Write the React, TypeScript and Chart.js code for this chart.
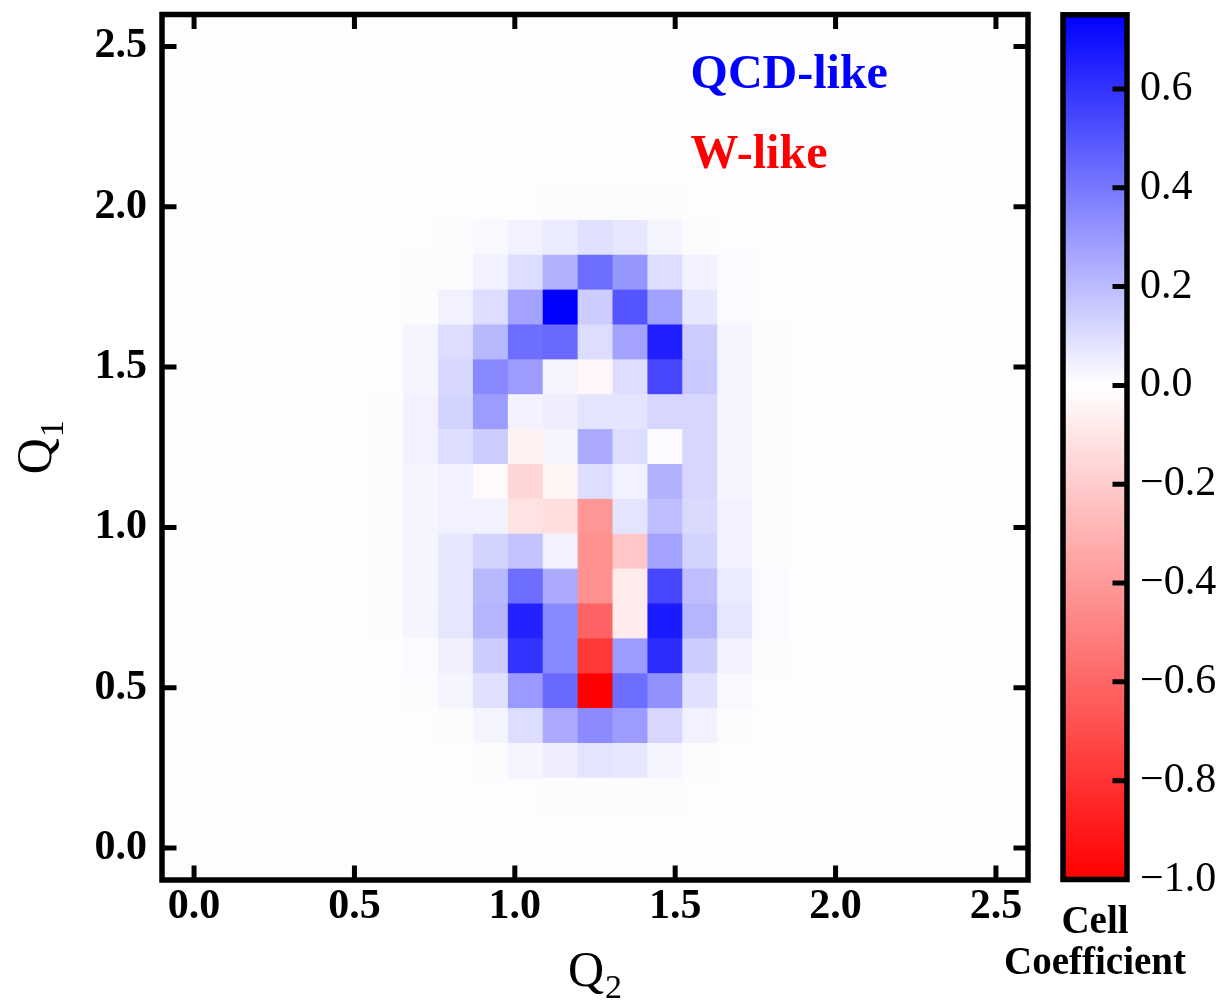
import { useEffect, useRef } from "react";
import { Chart, registerables } from "chart.js";

Chart.register(...registerables);

// Bin width of the (Q2, Q1) histogram; bin k spans [k*BIN, (k+1)*BIN]
const BIN = 0.1088;
const FIRST_COL = 5; // Q2 bin index of the first value in every row
const TOP_ROW = 18; // Q1 bin index of ROW_18

// Cell coefficients, one row per Q1 bin (top to bottom), Q2 bins 5..16
const ROW_18 = [0, 0, 0, 0, 0, 0.01, 0.01, 0.01, 0.01, 0, 0, 0];
const ROW_17 = [0, 0, 0.01, 0.02, 0.04, 0.06, 0.09, 0.07, 0.03, 0.01, 0, 0];
const ROW_16 = [0, 0.01, 0.01, 0.04, 0.1, 0.23, 0.43, 0.31, 0.1, 0.04, 0.015, 0];
const ROW_15 = [0, 0.01, 0.04, 0.1, 0.27, 0.75, 0.15, 0.5, 0.28, 0.07, 0.015, 0];
const ROW_14 = [0.005, 0.03, 0.1, 0.21, 0.43, 0.44, 0.1, 0.27, 0.66, 0.15, 0.03, 0.01];
const ROW_13 = [0.005, 0.03, 0.12, 0.35, 0.29, 0.03, -0.03, 0.1, 0.54, 0.16, 0.03, 0.01];
const ROW_12 = [0.01, 0.04, 0.13, 0.29, 0.035, 0.05, 0.08, 0.08, 0.12, 0.12, 0.03, 0.01];
const ROW_11 = [0.01, 0.04, 0.1, 0.15, -0.05, 0.03, 0.25, 0.1, 0.015, 0.12, 0.03, 0.01];
const ROW_10 = [0.01, 0.03, 0.04, -0.02, -0.16, -0.04, 0.1, 0.04, 0.23, 0.12, 0.03, 0.01];
const ROW_09 = [0.01, 0.03, 0.04, 0.035, -0.11, -0.13, -0.41, 0.08, 0.19, 0.11, 0.04, 0.01];
const ROW_08 = [0.01, 0.03, 0.07, 0.13, 0.18, 0.04, -0.43, -0.22, 0.27, 0.13, 0.04, 0.01];
const ROW_07 = [0.01, 0.03, 0.07, 0.21, 0.43, 0.25, -0.43, -0.08, 0.54, 0.19, 0.06, 0.015];
const ROW_06 = [0.01, 0.03, 0.075, 0.22, 0.65, 0.35, -0.61, -0.08, 0.67, 0.22, 0.075, 0.015];
const ROW_05 = [0, 0.015, 0.045, 0.15, 0.6, 0.35, -0.78, 0.29, 0.62, 0.15, 0.04, 0.01];
const ROW_04 = [0, 0.01, 0.03, 0.09, 0.3, 0.44, -1.0, 0.43, 0.32, 0.09, 0.02, 0.006];
const ROW_03 = [0, 0, 0.01, 0.03, 0.1, 0.25, 0.34, 0.29, 0.12, 0.04, 0.01, 0];
const ROW_02 = [0, 0, 0, 0.01, 0.03, 0.05, 0.08, 0.07, 0.03, 0.01, 0, 0];
const ROW_01 = [0, 0, 0, 0, 0, 0.01, 0.01, 0.01, 0.01, 0, 0, 0];

const ROWS = [
  ROW_18, ROW_17, ROW_16, ROW_15, ROW_14, ROW_13, ROW_12, ROW_11, ROW_10,
  ROW_09, ROW_08, ROW_07, ROW_06, ROW_05, ROW_04, ROW_03, ROW_02, ROW_01,
];

const AXIS_MIN = -0.1;
const AXIS_MAX = 2.6;
const X_TICKS = [0, 0.5, 1.0, 1.5, 2.0, 2.5];
const Y_TICKS = [0, 0.5, 1.0, 1.5, 2.0, 2.5];

const V_MIN = -1.0;
const V_MAX = 0.75;
const CB_TICKS = [-1.0, -0.8, -0.6, -0.4, -0.2, 0.0, 0.2, 0.4, 0.6];

// Text annotations (data coordinates of the left end of the baseline)
const LABEL_QCD = { text: "QCD-like", x: 1.548, y: 2.371, color: "#0000ff" };
const LABEL_W = { text: "W-like", x: 1.548, y: 2.122, color: "#ff0000" };

const SERIF = "'Liberation Serif', 'Times New Roman', serif";
const PLOT_BG = "rgb(253,253,255)";
const FRAME_W = 5.5;
const TICK_W = 5;
const TICK_LEN = 14.5;

// Diverging blue-white-red map, white at zero
function cellColor(v: number): string {
  if (v >= 0) {
    const t = Math.min(v / V_MAX, 1);
    const c = Math.round(255 * (1 - t));
    return `rgb(${c},${c},255)`;
  }
  const t = Math.min(v / V_MIN, 1);
  const c = Math.round(255 * (1 - t));
  return `rgb(255,${c},${c})`;
}

type Cell = { x: number; y: number; v: number };

function buildCells(): Cell[] {
  const cells: Cell[] = [];
  ROWS.forEach((row, r) => {
    const yBin = TOP_ROW - r;
    row.forEach((v, c) => {
      const xBin = FIRST_COL + c;
      cells.push({ x: (xBin + 0.5) * BIN, y: (yBin + 0.5) * BIN, v });
    });
  });
  return cells;
}

const cellPlugin = {
  id: "cellGrid",
  beforeDatasetsDraw(chart: any) {
    const { ctx, chartArea: a, scales } = chart;
    const xs = scales.x;
    const ys = scales.y;
    ctx.save();
    ctx.beginPath();
    ctx.rect(a.left, a.top, a.right - a.left, a.bottom - a.top);
    ctx.clip();
    ctx.fillStyle = PLOT_BG;
    ctx.fillRect(a.left, a.top, a.right - a.left, a.bottom - a.top);
    for (const cell of chart.data.datasets[0].data as Cell[]) {
      if (cell.v === 0) continue;
      const x0 = xs.getPixelForValue(cell.x - BIN / 2);
      const x1 = xs.getPixelForValue(cell.x + BIN / 2);
      const y0 = ys.getPixelForValue(cell.y + BIN / 2);
      const y1 = ys.getPixelForValue(cell.y - BIN / 2);
      ctx.fillStyle = cellColor(cell.v);
      ctx.fillRect(x0 - 0.3, y0 - 0.3, x1 - x0 + 0.6, y1 - y0 + 0.6);
    }
    ctx.restore();
  },
};

const framePlugin = {
  id: "frameAndLabels",
  afterDraw(chart: any) {
    const { ctx, chartArea: a, scales } = chart;
    const xs = scales.x;
    const ys = scales.y;
    ctx.save();
    ctx.strokeStyle = "#000";
    ctx.lineJoin = "miter";
    ctx.lineCap = "butt";

    // inward tick marks on all four sides
    ctx.lineWidth = TICK_W;
    ctx.beginPath();
    for (const t of X_TICKS) {
      const px = xs.getPixelForValue(t);
      ctx.moveTo(px, a.bottom);
      ctx.lineTo(px, a.bottom - TICK_LEN);
      ctx.moveTo(px, a.top);
      ctx.lineTo(px, a.top + TICK_LEN);
    }
    for (const t of Y_TICKS) {
      const py = ys.getPixelForValue(t);
      ctx.moveTo(a.left, py);
      ctx.lineTo(a.left + TICK_LEN, py);
      ctx.moveTo(a.right, py);
      ctx.lineTo(a.right - TICK_LEN, py);
    }
    ctx.stroke();

    ctx.lineWidth = FRAME_W;
    ctx.strokeRect(a.left, a.top, a.right - a.left, a.bottom - a.top);

    // annotations
    ctx.font = `bold 48px ${SERIF}`;
    ctx.textAlign = "left";
    ctx.textBaseline = "alphabetic";
    for (const lab of [LABEL_QCD, LABEL_W]) {
      ctx.fillStyle = lab.color;
      ctx.fillText(lab.text, xs.getPixelForValue(lab.x), ys.getPixelForValue(lab.y));
    }

    // axis titles Q_2 (bottom) and Q_1 (left, rotated)
    ctx.fillStyle = "#000";
    const mainFont = `normal 50px ${SERIF}`;
    const subFont = `normal 34px ${SERIF}`;
    const drawQ = (sub: string, x: number, y: number, rot: number) => {
      ctx.save();
      ctx.translate(x, y);
      ctx.rotate(rot);
      ctx.textAlign = "left";
      ctx.font = mainFont;
      const wq = ctx.measureText("Q").width;
      ctx.font = subFont;
      const ws = ctx.measureText(sub).width;
      const start = -(wq + ws + 1) / 2;
      ctx.font = mainFont;
      ctx.fillText("Q", start, 0);
      ctx.font = subFont;
      ctx.fillText(sub, start + wq + 1, 12);
      ctx.restore();
    };
    drawQ("2", (a.left + a.right) / 2, 986, 0);
    drawQ("1", 51, (a.top + a.bottom) / 2, -Math.PI / 2);
    ctx.restore();
  },
};

const colorbarPlugin = {
  id: "colorbar",
  beforeDatasetsDraw(chart: any) {
    const { ctx, chartArea: a, scales } = chart;
    const ys = scales.y;
    const yBottom = ys.getPixelForValue(V_MIN);
    const yTop = ys.getPixelForValue(V_MAX);
    const grad = ctx.createLinearGradient(0, yBottom, 0, yTop);
    grad.addColorStop(0, cellColor(V_MIN));
    grad.addColorStop((0 - V_MIN) / (V_MAX - V_MIN), cellColor(0));
    grad.addColorStop(1, cellColor(V_MAX));
    ctx.save();
    ctx.fillStyle = grad;
    ctx.fillRect(a.left, a.top, a.right - a.left, a.bottom - a.top);
    ctx.restore();
  },
  afterDraw(chart: any) {
    const { ctx, chartArea: a, scales } = chart;
    const ys = scales.y;
    ctx.save();
    ctx.strokeStyle = "#000";
    ctx.lineWidth = TICK_W;
    ctx.beginPath();
    for (const t of CB_TICKS) {
      const py = ys.getPixelForValue(t);
      ctx.moveTo(a.right, py);
      ctx.lineTo(a.right - TICK_LEN, py);
    }
    ctx.stroke();
    ctx.lineWidth = FRAME_W;
    ctx.lineJoin = "miter";
    ctx.strokeRect(a.left, a.top, a.right - a.left, a.bottom - a.top);

    ctx.fillStyle = "#000";
    ctx.font = `bold 39px ${SERIF}`;
    ctx.textAlign = "center";
    ctx.textBaseline = "alphabetic";
    const cx = (a.left + a.right) / 2;
    ctx.fillText("Cell", cx, 933);
    ctx.fillText("Coefficient", cx, 974);
    ctx.restore();
  },
};

const tickFontBold = { family: SERIF, size: 42, weight: "bold" as const, lineHeight: 1 };
const tickFontRegular = { family: SERIF, size: 42, weight: "normal" as const, lineHeight: 1 };

const fmt1 = (v: number | string) => {
  const n = Number(v);
  const s = Math.abs(n).toFixed(1);
  return n < -1e-9 ? "\u2212" + s : s;
};

// keep the plot area exactly where the layout padding puts it
const noOverhang = (s: any) => {
  s.paddingTop = 0;
  s.paddingBottom = 0;
  s.paddingLeft = 0;
  s.paddingRight = 0;
};

export default function App() {
  const mainRef = useRef<HTMLCanvasElement | null>(null);
  const cbRef = useRef<HTMLCanvasElement | null>(null);

  useEffect(() => {
    if (!mainRef.current || !cbRef.current) return;

    const main = new Chart(mainRef.current, {
      type: "scatter",
      data: {
        datasets: [
          {
            data: buildCells() as any,
            pointRadius: 0,
            pointHoverRadius: 0,
          },
        ],
      },
      options: {
        animation: false,
        responsive: false,
        events: [],
        layout: { padding: { top: 14.5, right: 12, left: 0, bottom: 0 } },
        plugins: { legend: { display: false }, tooltip: { enabled: false } },
        scales: {
          x: {
            type: "linear",
            position: "bottom",
            min: AXIS_MIN,
            max: AXIS_MAX,
            afterBuildTicks: (s: any) => {
              s.ticks = X_TICKS.map((value) => ({ value }));
            },
            afterFit: (s: any) => {
              s.height = 126;
              noOverhang(s);
            },
            grid: { display: false, drawTicks: false },
            border: { display: false },
            ticks: {
              autoSkip: false,
              maxRotation: 0,
              minRotation: 0,
              padding: 6,
              color: "#000",
              font: tickFontBold,
              callback: (v: any) => fmt1(v),
            },
          },
          y: {
            type: "linear",
            position: "left",
            min: AXIS_MIN,
            max: AXIS_MAX,
            afterBuildTicks: (s: any) => {
              s.ticks = Y_TICKS.map((value) => ({ value }));
            },
            afterFit: (s: any) => {
              s.width = 162;
              noOverhang(s);
            },
            grid: { display: false, drawTicks: false },
            border: { display: false },
            ticks: {
              autoSkip: false,
              padding: 15,
              color: "#000",
              font: tickFontBold,
              callback: (v: any) => fmt1(v),
            },
          },
        },
      },
      plugins: [cellPlugin, framePlugin],
    });

    const cb = new Chart(cbRef.current, {
      type: "scatter",
      data: { datasets: [{ data: [], pointRadius: 0 }] },
      options: {
        animation: false,
        responsive: false,
        events: [],
        layout: { padding: { top: 14.8, left: 73, right: 0, bottom: 126.5 } },
        plugins: { legend: { display: false }, tooltip: { enabled: false } },
        scales: {
          x: { type: "linear", display: false, min: 0, max: 1 },
          y: {
            type: "linear",
            position: "right",
            min: V_MIN,
            max: V_MAX,
            afterBuildTicks: (s: any) => {
              s.ticks = CB_TICKS.map((value) => ({ value }));
            },
            afterFit: (s: any) => {
              s.width = 105;
              noOverhang(s);
            },
            grid: { display: false, drawTicks: false },
            border: { display: false },
            ticks: {
              autoSkip: false,
              padding: 13,
              color: "#000",
              font: tickFontRegular,
              callback: (v: any) => fmt1(v),
            },
          },
        },
      },
      plugins: [colorbarPlugin],
    });

    return () => {
      main.destroy();
      cb.destroy();
    };
  }, []);

  return (
    <div style={{ position: "absolute", left: 0, top: 0, width: 1232, height: 1006, background: "#fff" }}>
      <canvas
        ref={mainRef}
        width={1040}
        height={1006}
        style={{ position: "absolute", left: 0, top: 0, width: 1040, height: 1006 }}
      />
      <canvas
        ref={cbRef}
        width={242}
        height={1006}
        style={{ position: "absolute", left: 990, top: 0, width: 242, height: 1006 }}
      />
    </div>
  );
}
